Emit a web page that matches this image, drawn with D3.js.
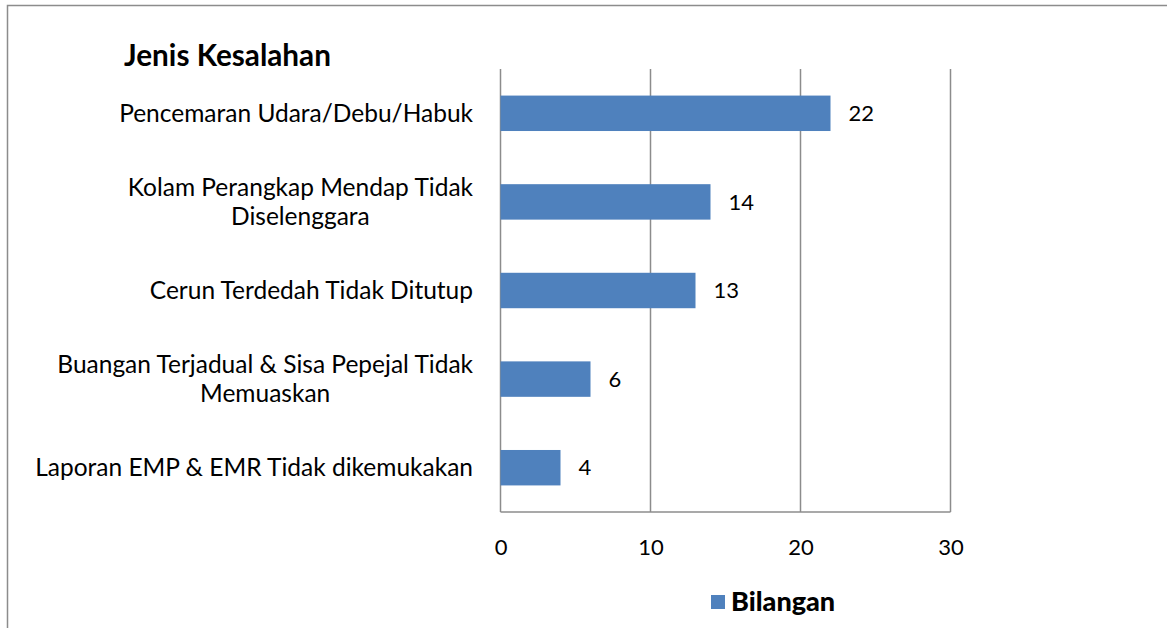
<!DOCTYPE html>
<html><head><meta charset="utf-8">
<script src="https://cdn.jsdelivr.net/npm/d3@7"></script>
<style>body{margin:0;background:#fff}svg{display:block}</style>
</head><body>
<svg id="c" width="1167" height="628"></svg>
<script>
const categories = [
  ["Pencemaran Udara/Debu/Habuk"],
  ["Kolam Perangkap Mendap Tidak", "Diselenggara"],
  ["Cerun Terdedah Tidak Ditutup"],
  ["Buangan Terjadual & Sisa Pepejal Tidak", "Memuaskan"],
  ["Laporan EMP & EMR Tidak dikemukakan"]
];
const values = [22, 14, 13, 6, 4];
const xTicks = [0, 10, 20, 30];
const seriesName = "Bilangan";
const title = "Jenis Kesalahan";

const font = "Lato, 'Open Sans', sans-serif";
const svg = d3.select("#c");
svg.append("rect").attr("x",7.5).attr("y",5.5).attr("width",1170).attr("height",640)
  .attr("fill","none").attr("stroke","#8c8c8c").attr("stroke-width",1.5);

const x = d3.scaleLinear().domain([0,30]).range([500.5,950.5]);
const y = d3.scaleBand().domain(d3.range(categories.length)).range([69,512]).paddingInner(0.6).paddingOuter(0.3);

const g = svg.append("g");
g.selectAll("line.grid").data(xTicks).join("line")
  .attr("x1",d=>x(d)).attr("x2",d=>x(d)).attr("y1",69).attr("y2",512)
  .attr("stroke","#8c8c8c").attr("stroke-width",1.5);
g.append("line").attr("x1",x(0)).attr("x2",x(30)).attr("y1",512).attr("y2",512)
  .attr("stroke","#8c8c8c").attr("stroke-width",1.5);

g.selectAll("rect.bar").data(values).join("rect")
  .attr("x",x(0)).attr("y",(d,i)=>y(i)).attr("width",d=>x(d)-x(0)).attr("height",y.bandwidth())
  .attr("fill","#4F81BD");

g.selectAll("text.val").data(values).join("text")
  .attr("x",d=>x(d)+18).attr("y",(d,i)=>y(i)+y.bandwidth()/2).attr("dy","0.35em")
  .attr("font-family",font).attr("font-size",22).attr("fill","#000").text(d=>d);

const xa = d3.axisBottom(x).tickValues(xTicks).tickSize(0).tickPadding(0);
const ax = g.append("g").attr("transform","translate(0,547)").call(xa);
ax.select(".domain").remove();
ax.selectAll("text").attr("font-family",font).attr("font-size",22).attr("fill","#000").attr("dy","0.35em");

categories.forEach((lines,i)=>{
  const cy = y(i)+y.bandwidth()/2;
  const t = g.append("text").attr("font-family",font).attr("font-size",24.5).attr("fill","#000")
    .attr("text-anchor","middle");
  const lh = 29;
  const spans = lines.map((l,k)=>t.append("tspan").attr("y",cy+(k-(lines.length-1)/2)*lh).attr("dy","0.35em").text(l));
  let w = 0; spans.forEach(s=>{w=Math.max(w,s.node().getComputedTextLength());});
  spans.forEach(s=>s.attr("x",473-w/2));
});

svg.append("text").attr("x",124).attr("y",66).attr("font-family",font).attr("font-weight","bold")
  .attr("font-size",29.7).attr("fill","#000").text(title);

svg.append("rect").attr("x",711).attr("y",595).attr("width",14).attr("height",14).attr("fill","#4F81BD");
svg.append("text").attr("x",731).attr("y",602).attr("dy","0.35em").attr("font-family",font).attr("font-weight",900)
  .attr("font-size",27).attr("fill","#000").text(seriesName);
</script>
</body></html>
